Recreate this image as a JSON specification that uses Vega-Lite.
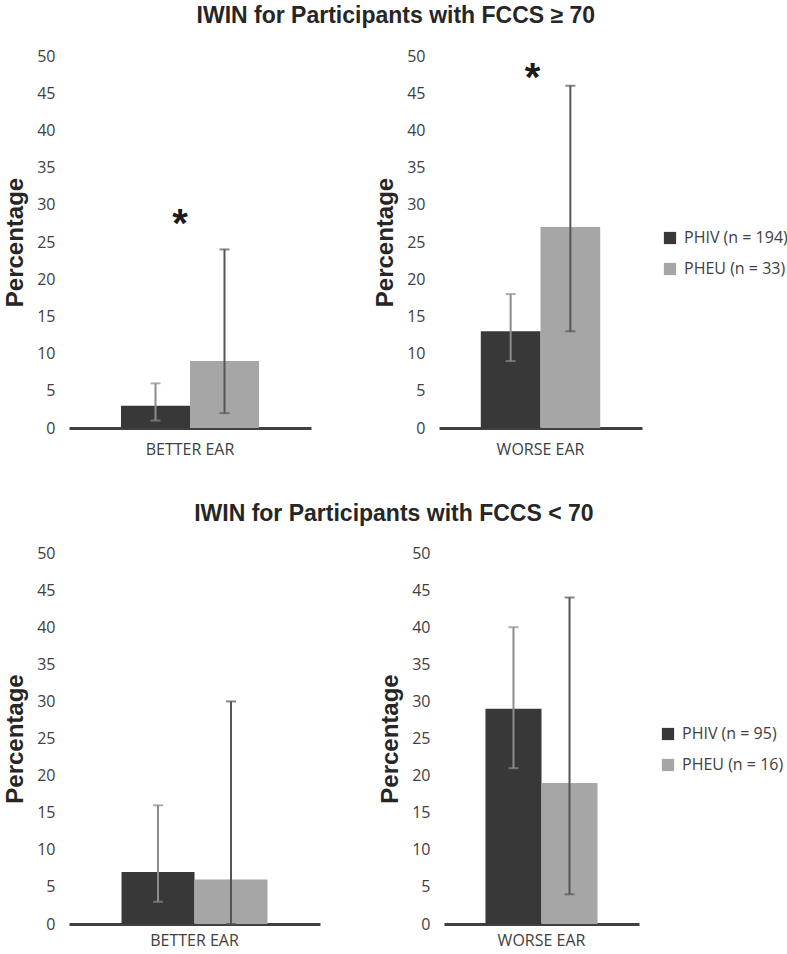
{
  "$schema": "https://vega.github.io/schema/vega-lite/v6.json",
  "background": "white",
  "padding": {"left": 3, "top": 5, "right": 2, "bottom": 6},
  "data": {"values": [
    {"fccs": "ge70", "ear": "BETTER EAR", "group": "PHIV", "label": "PHIV (n = 194)", "pct": 3, "lo": 1, "hi": 6, "star": null},
    {"fccs": "ge70", "ear": "BETTER EAR", "group": "PHEU", "label": "PHEU (n = 33)", "pct": 9, "lo": 2, "hi": 24, "star": 28},
    {"fccs": "ge70", "ear": "WORSE EAR", "group": "PHIV", "label": "PHIV (n = 194)", "pct": 13, "lo": 9, "hi": 18, "star": null},
    {"fccs": "ge70", "ear": "WORSE EAR", "group": "PHEU", "label": "PHEU (n = 33)", "pct": 27, "lo": 13, "hi": 46, "star": 48},
    {"fccs": "lt70", "ear": "BETTER EAR", "group": "PHIV", "label": "PHIV (n = 95)", "pct": 7, "lo": 3, "hi": 16, "star": null},
    {"fccs": "lt70", "ear": "BETTER EAR", "group": "PHEU", "label": "PHEU (n = 16)", "pct": 6, "lo": 0, "hi": 30, "star": null},
    {"fccs": "lt70", "ear": "WORSE EAR", "group": "PHIV", "label": "PHIV (n = 95)", "pct": 29, "lo": 21, "hi": 40, "star": null},
    {"fccs": "lt70", "ear": "WORSE EAR", "group": "PHEU", "label": "PHEU (n = 16)", "pct": 19, "lo": 4, "hi": 44, "star": null}
  ]},
  "resolve": {"scale": {"color": "independent", "xOffset": "independent"}, "legend": {"color": "independent"}},
  "spacing": 46,
  "vconcat": [
    {
      "title": "IWIN for Participants with FCCS ≥ 70",
      "spacing": 62,
      "resolve": {"scale": {"xOffset": "independent"}},
      "hconcat": [
        {
          "width": 242, "height": 372,
          "transform": [{"filter": "datum.fccs == 'ge70' && datum.ear == 'BETTER EAR'"}],
          "encoding": {"x": {"field": "ear", "type": "nominal", "scale": {"paddingInner": 0, "paddingOuter": 0.377}, "axis": {"title": null, "labelPadding": 13}}},
          "layer": [
            {"mark": {"type": "bar"}, "encoding": {
              "xOffset": {"field": "group", "type": "nominal", "scale": {"domain": ["PHIV", "PHEU"], "paddingInner": 0, "paddingOuter": 0}},
              "y": {"field": "pct", "type": "quantitative", "title": "Percentage", "scale": {"domain": [0, 50]}, "axis": {"values": [0,5,10,15,20,25,30,35,40,45,50]}},
              "color": {"field": "label", "type": "nominal", "scale": {"domain": ["PHIV (n = 194)", "PHEU (n = 33)"], "range": ["#383838", "#a6a6a6"]},
                "legend": {"title": null, "orient": "none", "legendX": 593, "legendY": 174}}}},
            {"mark": {"type": "rule", "strokeWidth": 2}, "encoding": {
              "xOffset": {"field": "group", "type": "nominal", "scale": {"domain": ["PHIV", "PHEU"]}},
              "y": {"field": "lo", "type": "quantitative", "title": "Percentage", "axis": {"values": [0,5,10,15,20,25,30,35,40,45,50]}}, "y2": {"field": "hi"},
              "stroke": {"field": "group", "type": "nominal", "scale": {"domain": ["PHIV", "PHEU"], "range": ["#8c8c8c", "#555555"]}, "legend": null}}},
            {"mark": {"type": "tick", "thickness": 2, "size": 10, "orient": "horizontal"}, "encoding": {
              "xOffset": {"field": "group", "type": "nominal", "scale": {"domain": ["PHIV", "PHEU"]}},
              "y": {"field": "lo", "type": "quantitative", "title": "Percentage", "axis": {"values": [0,5,10,15,20,25,30,35,40,45,50]}},
              "fill": {"field": "group", "type": "nominal", "scale": {"domain": ["PHIV", "PHEU"], "range": ["#8c8c8c", "#555555"]}, "legend": null}}},
            {"mark": {"type": "tick", "thickness": 2, "size": 10, "orient": "horizontal"}, "encoding": {
              "xOffset": {"field": "group", "type": "nominal", "scale": {"domain": ["PHIV", "PHEU"]}},
              "y": {"field": "hi", "type": "quantitative", "title": "Percentage", "axis": {"values": [0,5,10,15,20,25,30,35,40,45,50]}},
              "fill": {"field": "group", "type": "nominal", "scale": {"domain": ["PHIV", "PHEU"], "range": ["#8c8c8c", "#555555"]}, "legend": null}}},
            {"transform": [{"filter": "isValid(datum.star)"}],
             "mark": {"type": "text", "text": "*", "font": "Liberation Sans", "fontWeight": "bold", "fontSize": 40, "color": "#1a1a1a", "baseline": "middle", "dx": -10, "dy": 5},
             "encoding": {"y": {"field": "star", "type": "quantitative", "title": "Percentage", "axis": {"values": [0,5,10,15,20,25,30,35,40,45,50]}}}}
          ]
        },
        {
          "width": 203, "height": 372,
          "transform": [{"filter": "datum.fccs == 'ge70' && datum.ear == 'WORSE EAR'"}],
          "encoding": {"x": {"field": "ear", "type": "nominal", "scale": {"paddingInner": 0, "paddingOuter": 0.35}, "axis": {"title": null, "labelPadding": 13}}},
          "layer": [
            {"mark": {"type": "bar"}, "encoding": {
              "xOffset": {"field": "group", "type": "nominal", "scale": {"domain": ["PHIV", "PHEU"], "paddingInner": 0, "paddingOuter": 0}},
              "y": {"field": "pct", "type": "quantitative", "title": "Percentage", "scale": {"domain": [0, 50]}, "axis": {"values": [0,5,10,15,20,25,30,35,40,45,50]}},
              "color": {"field": "label", "type": "nominal", "scale": {"domain": ["PHIV (n = 194)", "PHEU (n = 33)"], "range": ["#383838", "#a6a6a6"]},
                "legend": {"title": null, "orient": "none", "legendX": 593, "legendY": 174}}}},
            {"mark": {"type": "rule", "strokeWidth": 2}, "encoding": {
              "xOffset": {"field": "group", "type": "nominal", "scale": {"domain": ["PHIV", "PHEU"]}},
              "y": {"field": "lo", "type": "quantitative", "title": "Percentage", "axis": {"values": [0,5,10,15,20,25,30,35,40,45,50]}}, "y2": {"field": "hi"},
              "stroke": {"field": "group", "type": "nominal", "scale": {"domain": ["PHIV", "PHEU"], "range": ["#8c8c8c", "#555555"]}, "legend": null}}},
            {"mark": {"type": "tick", "thickness": 2, "size": 10, "orient": "horizontal"}, "encoding": {
              "xOffset": {"field": "group", "type": "nominal", "scale": {"domain": ["PHIV", "PHEU"]}},
              "y": {"field": "lo", "type": "quantitative", "title": "Percentage", "axis": {"values": [0,5,10,15,20,25,30,35,40,45,50]}},
              "fill": {"field": "group", "type": "nominal", "scale": {"domain": ["PHIV", "PHEU"], "range": ["#8c8c8c", "#555555"]}, "legend": null}}},
            {"mark": {"type": "tick", "thickness": 2, "size": 10, "orient": "horizontal"}, "encoding": {
              "xOffset": {"field": "group", "type": "nominal", "scale": {"domain": ["PHIV", "PHEU"]}},
              "y": {"field": "hi", "type": "quantitative", "title": "Percentage", "axis": {"values": [0,5,10,15,20,25,30,35,40,45,50]}},
              "fill": {"field": "group", "type": "nominal", "scale": {"domain": ["PHIV", "PHEU"], "range": ["#8c8c8c", "#555555"]}, "legend": null}}},
            {"transform": [{"filter": "isValid(datum.star)"}],
             "mark": {"type": "text", "text": "*", "font": "Liberation Sans", "fontWeight": "bold", "fontSize": 40, "color": "#1a1a1a", "baseline": "middle", "dx": -8, "dy": 8},
             "encoding": {"y": {"field": "star", "type": "quantitative", "title": "Percentage", "axis": {"values": [0,5,10,15,20,25,30,35,40,45,50]}}}}
          ]
        }
      ]
    },
    {
      "title": {"text": "IWIN for Participants with FCCS < 70", "offset": 19},
      "spacing": 58,
      "resolve": {"scale": {"xOffset": "independent"}},
      "hconcat": [
        {
          "width": 251, "height": 371,
          "transform": [{"filter": "datum.fccs == 'lt70' && datum.ear == 'BETTER EAR'"}],
          "encoding": {"x": {"field": "ear", "type": "nominal", "scale": {"paddingInner": 0, "paddingOuter": 0.36}, "axis": {"title": null, "labelPadding": 8}}},
          "layer": [
            {"mark": {"type": "bar"}, "encoding": {
              "xOffset": {"field": "group", "type": "nominal", "scale": {"domain": ["PHIV", "PHEU"], "paddingInner": 0, "paddingOuter": 0}},
              "y": {"field": "pct", "type": "quantitative", "title": "Percentage", "scale": {"domain": [0, 50]}, "axis": {"values": [0,5,10,15,20,25,30,35,40,45,50]}},
              "color": {"field": "label", "type": "nominal", "scale": {"domain": ["PHIV (n = 95)", "PHEU (n = 16)"], "range": ["#383838", "#a6a6a6"]},
                "legend": {"title": null, "orient": "none", "legendX": 591, "legendY": 173}}}},
            {"mark": {"type": "rule", "strokeWidth": 2}, "encoding": {
              "xOffset": {"field": "group", "type": "nominal", "scale": {"domain": ["PHIV", "PHEU"]}},
              "y": {"field": "lo", "type": "quantitative", "title": "Percentage", "axis": {"values": [0,5,10,15,20,25,30,35,40,45,50]}}, "y2": {"field": "hi"},
              "stroke": {"field": "group", "type": "nominal", "scale": {"domain": ["PHIV", "PHEU"], "range": ["#8c8c8c", "#555555"]}, "legend": null}}},
            {"mark": {"type": "tick", "thickness": 2, "size": 10, "orient": "horizontal"}, "encoding": {
              "xOffset": {"field": "group", "type": "nominal", "scale": {"domain": ["PHIV", "PHEU"]}},
              "y": {"field": "lo", "type": "quantitative", "title": "Percentage", "axis": {"values": [0,5,10,15,20,25,30,35,40,45,50]}},
              "fill": {"field": "group", "type": "nominal", "scale": {"domain": ["PHIV", "PHEU"], "range": ["#8c8c8c", "#555555"]}, "legend": null}}},
            {"mark": {"type": "tick", "thickness": 2, "size": 10, "orient": "horizontal"}, "encoding": {
              "xOffset": {"field": "group", "type": "nominal", "scale": {"domain": ["PHIV", "PHEU"]}},
              "y": {"field": "hi", "type": "quantitative", "title": "Percentage", "axis": {"values": [0,5,10,15,20,25,30,35,40,45,50]}},
              "fill": {"field": "group", "type": "nominal", "scale": {"domain": ["PHIV", "PHEU"], "range": ["#8c8c8c", "#555555"]}, "legend": null}}}
          ]
        },
        {
          "width": 195, "height": 371,
          "transform": [{"filter": "datum.fccs == 'lt70' && datum.ear == 'WORSE EAR'"}],
          "encoding": {"x": {"field": "ear", "type": "nominal", "scale": {"paddingInner": 0, "paddingOuter": 0.37}, "axis": {"title": null, "labelPadding": 8}}},
          "layer": [
            {"mark": {"type": "bar"}, "encoding": {
              "xOffset": {"field": "group", "type": "nominal", "scale": {"domain": ["PHIV", "PHEU"], "paddingInner": 0, "paddingOuter": 0}},
              "y": {"field": "pct", "type": "quantitative", "title": "Percentage", "scale": {"domain": [0, 50]}, "axis": {"values": [0,5,10,15,20,25,30,35,40,45,50]}},
              "color": {"field": "label", "type": "nominal", "scale": {"domain": ["PHIV (n = 95)", "PHEU (n = 16)"], "range": ["#383838", "#a6a6a6"]},
                "legend": {"title": null, "orient": "none", "legendX": 591, "legendY": 173}}}},
            {"mark": {"type": "rule", "strokeWidth": 2}, "encoding": {
              "xOffset": {"field": "group", "type": "nominal", "scale": {"domain": ["PHIV", "PHEU"]}},
              "y": {"field": "lo", "type": "quantitative", "title": "Percentage", "axis": {"values": [0,5,10,15,20,25,30,35,40,45,50]}}, "y2": {"field": "hi"},
              "stroke": {"field": "group", "type": "nominal", "scale": {"domain": ["PHIV", "PHEU"], "range": ["#8c8c8c", "#555555"]}, "legend": null}}},
            {"mark": {"type": "tick", "thickness": 2, "size": 10, "orient": "horizontal"}, "encoding": {
              "xOffset": {"field": "group", "type": "nominal", "scale": {"domain": ["PHIV", "PHEU"]}},
              "y": {"field": "lo", "type": "quantitative", "title": "Percentage", "axis": {"values": [0,5,10,15,20,25,30,35,40,45,50]}},
              "fill": {"field": "group", "type": "nominal", "scale": {"domain": ["PHIV", "PHEU"], "range": ["#8c8c8c", "#555555"]}, "legend": null}}},
            {"mark": {"type": "tick", "thickness": 2, "size": 10, "orient": "horizontal"}, "encoding": {
              "xOffset": {"field": "group", "type": "nominal", "scale": {"domain": ["PHIV", "PHEU"]}},
              "y": {"field": "hi", "type": "quantitative", "title": "Percentage", "axis": {"values": [0,5,10,15,20,25,30,35,40,45,50]}},
              "fill": {"field": "group", "type": "nominal", "scale": {"domain": ["PHIV", "PHEU"], "range": ["#8c8c8c", "#555555"]}, "legend": null}}}
          ]
        }
      ]
    }
  ],
  "config": {
    "view": {"stroke": null},
    "title": {"font": "Liberation Sans", "fontSize": 23, "fontWeight": "bold", "color": "#262626", "anchor": "middle", "offset": 20},
    "axisY": {"domain": false, "ticks": false, "grid": false, "labelFont": "Open Sans", "labelFontSize": 16, "labelColor": "#404040", "labelPadding": 14,
      "titleFont": "Liberation Sans", "titleFontSize": 24, "titleFontWeight": "bold", "titleColor": "#262626", "titlePadding": 9},
    "axisX": {"domain": true, "domainWidth": 3, "domainColor": "#404040", "ticks": false, "grid": false, "labelFont": "Open Sans", "labelFontSize": 16,
      "labelColor": "#404040", "labelAngle": 0},
    "legend": {"symbolType": "square", "symbolSize": 150, "symbolStrokeWidth": 0, "labelFont": "Open Sans", "labelFontSize": 16, "labelColor": "#404040",
      "rowPadding": 15, "labelOffset": 6, "labelLimit": 300},
    "bar": {"stroke": null}
  }
}
